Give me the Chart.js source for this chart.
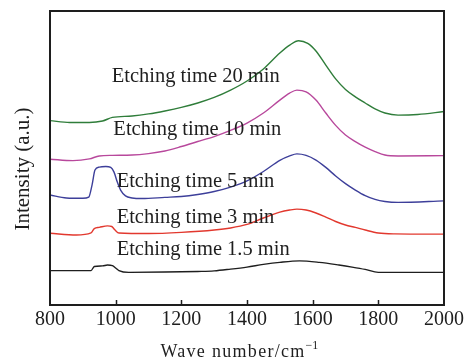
<!DOCTYPE html>
<html>
<head>
<meta charset="utf-8">
<script src="https://cdn.jsdelivr.net/npm/chart.js@4.4.1/dist/chart.umd.min.js"></script>
<style>
  html, body { margin: 0; padding: 0; background: #fff; }
  #wrap { width: 464px; height: 363px; position: relative; }
</style>
</head>
<body>
<div id="wrap"><canvas id="c"></canvas></div>
<script>
// Spectra (wave number in cm-1, intensity in a.u. on a 0-100 scale)
const wn20 = [800, 860, 920, 960, 990, 1050, 1100, 1150, 1200, 1250, 1300, 1350, 1400, 1450, 1500, 1530, 1557, 1585, 1610, 1640, 1670, 1700, 1730, 1760, 1790, 1820, 1860, 1920, 2000];
const int20 = [62.7, 62.1, 62.1, 62.6, 63.8, 64.3, 65.0, 66.0, 67.2, 68.7, 70.6, 73.1, 76.2, 80.3, 85.7, 88.4, 89.9, 89.0, 86.4, 81.6, 76.9, 73.3, 70.8, 68.7, 66.7, 65.3, 64.6, 64.8, 65.8];

const wn10 = [800, 870, 920, 950, 990, 1050, 1100, 1150, 1200, 1250, 1300, 1350, 1400, 1450, 1500, 1530, 1552, 1580, 1610, 1640, 1670, 1700, 1730, 1760, 1790, 1820, 1860, 2000];
const int10 = [49.6, 49.1, 49.7, 50.7, 50.9, 51.0, 51.5, 52.4, 53.9, 55.6, 57.3, 59.4, 61.9, 65.3, 69.7, 72.1, 73.1, 72.5, 69.7, 65.3, 61.1, 57.8, 55.6, 53.7, 52.2, 51.0, 50.7, 50.8];

const wn5 = [800, 850, 900, 918, 928, 937, 950, 970, 985, 995, 1005, 1015, 1030, 1050, 1080, 1150, 1200, 1250, 1300, 1350, 1400, 1450, 1500, 1530, 1552, 1580, 1610, 1640, 1670, 1700, 1730, 1760, 1790, 1820, 1860, 2000];
const int5 = [37.4, 36.4, 36.3, 36.7, 40.8, 45.9, 46.9, 47.1, 46.8, 45.2, 41.8, 39.1, 37.1, 36.4, 36.2, 36.6, 36.9, 37.6, 38.6, 40.1, 42.2, 45.4, 49.2, 50.7, 51.4, 50.9, 49.3, 46.8, 43.9, 41.3, 39.1, 37.2, 35.9, 35.2, 34.9, 35.4];

const wn3 = [800, 880, 925, 935, 950, 975, 988, 998, 1010, 1100, 1200, 1300, 1350, 1400, 1450, 1500, 1530, 1552, 1580, 1610, 1640, 1670, 1700, 1730, 1760, 1800, 1850, 2000];
const int3 = [24.4, 23.8, 24.5, 26.0, 26.4, 26.9, 26.7, 25.5, 24.5, 24.3, 24.7, 25.5, 26.2, 27.4, 29.6, 31.6, 32.3, 32.6, 32.3, 31.3, 29.9, 28.4, 27.2, 26.4, 25.5, 24.5, 24.2, 24.1];

const wn15 = [800, 925, 935, 960, 975, 990, 1000, 1010, 1040, 1150, 1250, 1300, 1350, 1400, 1450, 1500, 1560, 1620, 1680, 1720, 1760, 1800, 2000];
const int15 = [11.7, 11.7, 13.1, 13.3, 13.6, 13.4, 12.6, 11.7, 11.1, 11.2, 11.4, 11.6, 12.2, 12.9, 13.8, 14.5, 15.0, 14.5, 13.6, 12.9, 12.1, 11.1, 11.1];

const seriesNames = ["Etching time 20 min", "Etching time 10 min", "Etching time 5 min", "Etching time 3 min", "Etching time 1.5 min"];
const seriesColors = ["#2f7d3a", "#b8489c", "#3d3f9a", "#e2382e", "#1e1e1e"];
// label anchors (left end of text / baseline) in data units
const labelWn = [988, 993, 1003, 1003, 1003];
const labelInt = [76.0, 57.8, 40.2, 27.8, 17.0];

const xTicksMin = 800, xTicksMax = 2000, xTickStep = 200;

const serif = '"Liberation Serif", "Times New Roman", serif';
const ink = "#1e1e1e";

function pts(xs, ys) {
  return xs.map((v, i) => ({ x: v, y: ys[i] }));
}

const allWn = [wn20, wn10, wn5, wn3, wn15];
const allInt = [int20, int10, int5, int3, int15];

const decorations = {
  id: "decorations",
  afterDatasetsDraw(chart) {
    const { ctx, chartArea: a, scales: { x, y } } = chart;
    ctx.save();

    // inward tick marks on the bottom edge
    ctx.strokeStyle = ink;
    ctx.lineWidth = 1.5;
    x.ticks.forEach((t) => {
      if (t.value <= x.min || t.value >= x.max) return;
      const px = Math.round(x.getPixelForValue(t.value)) + 0.5;
      ctx.beginPath();
      ctx.moveTo(px, a.bottom);
      ctx.lineTo(px, a.bottom - 5);
      ctx.stroke();
    });

    // frame
    ctx.lineWidth = 2;
    ctx.strokeRect(a.left, a.top, a.right - a.left, a.bottom - a.top);

    // curve labels
    ctx.fillStyle = ink;
    ctx.font = "20.5px " + serif;
    ctx.textBaseline = "alphabetic";
    ctx.textAlign = "left";
    seriesNames.forEach((name, i) => {
      ctx.fillText(name, x.getPixelForValue(labelWn[i]), y.getPixelForValue(labelInt[i]));
    });

    // y title
    ctx.save();
    ctx.font = "21px " + serif;
    ctx.textAlign = "center";
    ctx.textBaseline = "middle";
    ctx.translate(23, (a.top + a.bottom) / 2 + 11);
    ctx.rotate(-Math.PI / 2);
    ctx.fillText("Intensity (a.u.)", 0, 0);
    ctx.restore();

    // x title with superscript
    ctx.font = "18px " + serif;
    ctx.letterSpacing = "1.3px";
    ctx.textAlign = "left";
    const main = "Wave number/cm";
    const w = ctx.measureText(main).width;
    const cx = (a.left + a.right) / 2 - 9;
    const left = cx - (w + 10) / 2;
    ctx.fillText(main, left, 357);
    ctx.letterSpacing = "0px";
    ctx.font = "12px " + serif;
    ctx.fillText("\u22121", left + w, 349);

    ctx.restore();
  },
};

new Chart(document.getElementById("c"), {
  type: "line",
  data: {
    datasets: seriesNames.map((name, i) => ({
      label: name,
      data: pts(allWn[i], allInt[i]),
      borderColor: seriesColors[i],
      borderWidth: 1.4,
      pointRadius: 0,
      fill: false,
      cubicInterpolationMode: "monotone",
    })),
  },
  options: {
    responsive: true,
    maintainAspectRatio: false,
    animation: false,
    layout: { padding: { left: 50, right: 20, top: 11, bottom: 0 } },
    plugins: {
      legend: { display: false },
      tooltip: { enabled: false },
    },
    scales: {
      x: {
        type: "linear",
        min: xTicksMin,
        max: xTicksMax,
        ticks: {
          stepSize: xTickStep,
          padding: 3,
          color: ink,
          font: { family: serif, size: 20 },
          maxRotation: 0,
          callback: (v) => String(v),
        },
        grid: { display: false, drawTicks: false },
        border: { display: false },
        afterFit: (s) => {
          s.height = 58;
          s.paddingLeft = 0;
          s.paddingRight = 0;
        },
      },
      y: { display: false, min: 0, max: 100 },
    },
  },
  plugins: [decorations],
});
</script>
</body>
</html>
